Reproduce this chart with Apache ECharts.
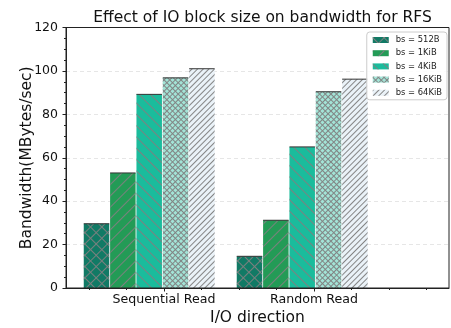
<!DOCTYPE html>
<html>
<head>
<meta charset="utf-8">
<script src="https://cdn.jsdelivr.net/npm/echarts@6/dist/echarts.min.js"></script>
<style>html,body{margin:0;padding:0;background:#fff}#c{width:451px;height:328px}</style>
</head>
<body>
<div id="c"></div>
<script>
// ---- data ----
const categories = ['Sequential Read', 'Random Read'];
const seriesNames = ['bs = 512B', 'bs = 1KiB', 'bs = 4KiB', 'bs = 16KiB', 'bs = 64KiB'];
const bs512B = [29.6, 14.6];
const bs1KiB = [53.0, 31.2];
const bs4KiB = [89.2, 65.0];
const bs16KiB = [96.8, 90.4];
const bs64KiB = [101.0, 96.2];
const yMin = 0, yMax = 120, yStep = 20;
const xTickValues = [-0.5, -0.25, 0, 0.25, 0.5, 0.75, 1, 1.25, 1.5, 1.75];
const xLabelValues = [0, 1];

const values = [bs512B, bs1KiB, bs4KiB, bs16KiB, bs64KiB];
const colors = ['#117a65', '#239b56', '#1abc9c', '#a3e4d7', '#eaf2f8'];
const HATCH = 'rgba(128,128,128,0.95)';
const FONT = 'DejaVu Sans';
const BAR_W = 25.5, GAP = 0.85;

function lines(spacing, rot) {
  return { symbol: 'rect', dashArrayX: [1, 0], dashArrayY: [1, spacing - 1], rotation: rot, color: HATCH };
}
function cross(cell) {
  return { symbol: 'path://M0,0H' + cell + 'V1H1V' + cell + 'H0Z', symbolSize: 1, symbolKeepAspect: false,
    dashArrayX: [cell, 0], dashArrayY: [cell, 0], rotation: Math.PI / 4, color: HATCH };
}
const decals = [cross(8), lines(8, -Math.PI / 4), lines(8, Math.PI / 4), cross(4), lines(4, -Math.PI / 4)];

const barSeries = values.map((arr, i) => ({
  name: seriesNames[i], type: 'bar', xAxisIndex: 1, yAxisIndex: 1,
  data: arr, barWidth: BAR_W, barGap: (GAP / BAR_W * 100) + '%',
  itemStyle: { color: colors[i], decal: decals[i] }, z: 2
}));

const capData = [];
values.forEach((arr, s) => arr.forEach((v, c) => capData.push([c, v, s])));

const chart = echarts.init(document.getElementById('c'), null, { renderer: 'canvas' });
const gridBase = { top: 27.5, height: 260.5, outerBoundsMode: 'none', containLabel: false };
chart.setOption({
  animation: false,
  backgroundColor: '#fff',
  textStyle: { fontFamily: FONT },
  title: {
    text: 'Effect of IO block size on bandwidth for RFS',
    left: 257.5, textAlign: 'center', top: 5,
    textStyle: { fontFamily: FONT, fontSize: 15.5, fontWeight: 'normal', color: '#111' }
  },
  legend: {
    data: seriesNames, orient: 'vertical', right: 4, top: 32, icon: 'rect',
    itemWidth: 16, itemHeight: 6, itemGap: 5.2, padding: [4, 5, 3, 6],
    backgroundColor: 'rgba(255,255,255,0.85)', borderColor: '#cccccc', borderWidth: 1, borderRadius: 3,
    textStyle: { fontFamily: FONT, fontSize: 8.4, color: '#222', padding: [0, 0, 0, 2] }
  },
  grid: [
    Object.assign({ left: 66, width: 383, show: true, z: 5, borderColor: '#222', borderWidth: 1, backgroundColor: 'transparent' }, gridBase),
    Object.assign({ left: 72.7, width: 306 }, gridBase),
    Object.assign({ left: 66, width: 383 }, gridBase)
  ],
  xAxis: [
    { gridIndex: 0, type: 'value', position: 'bottom', min: -0.6533, max: 1.9, z: 5,
      name: 'I/O direction', nameLocation: 'middle', nameGap: 22, nameMoveOverlap: false,
      nameTextStyle: { fontFamily: FONT, fontSize: 15.5, color: '#111' },
      axisLine: { show: true, onZero: false, lineStyle: { color: '#222', width: 1 } },
      axisTick: { show: true, length: 2, customValues: xTickValues, lineStyle: { color: '#222' } },
      axisLabel: { show: true, customValues: xLabelValues, margin: 5, fontFamily: FONT, fontSize: 12.6, color: '#111',
        formatter: v => categories[Math.round(v)] },
      splitLine: { show: false } },
    { gridIndex: 1, type: 'category', data: categories, show: false },
    { gridIndex: 2, type: 'value', position: 'bottom', min: -0.6533, max: 1.9, z: 5,
      axisLine: { show: false, onZero: false },
      axisTick: { show: true, length: 3.5, customValues: xLabelValues, lineStyle: { color: '#222' } },
      axisLabel: { show: false }, splitLine: { show: false } }
  ],
  yAxis: [
    { gridIndex: 0, type: 'value', min: yMin, max: yMax, interval: yStep, z: 0,
      name: 'Bandwidth(MBytes/sec)', nameLocation: 'middle', nameGap: 31, nameMoveOverlap: false,
      nameTextStyle: { fontFamily: FONT, fontSize: 15.5, color: '#111' },
      axisLine: { show: true, onZero: false, lineStyle: { color: '#222', width: 1 } },
      axisTick: { show: true, length: 3.5, lineStyle: { color: '#222' } },
      minorTick: { show: true, splitNumber: 4, length: 2, lineStyle: { color: '#222' } },
      axisLabel: { margin: 8, fontFamily: FONT, fontSize: 12.5, color: '#111' },
      splitLine: { show: true, lineStyle: { color: '#e6e6e6', type: [4, 3], width: 1 } } },
    { gridIndex: 1, type: 'value', min: yMin, max: yMax, interval: yStep, show: false, splitLine: { show: false } },
    { gridIndex: 2, type: 'value', min: yMin, max: yMax, interval: yStep, show: false, splitLine: { show: false } }
  ],
  series: barSeries.concat([{
    type: 'custom', xAxisIndex: 1, yAxisIndex: 1, data: capData, z: 3, silent: true,
    renderItem: function (params, api) {
      const p = api.coord([api.value(0), api.value(1)]);
      const s = api.value(2);
      const cx = p[0] + (s - (values.length - 1) / 2) * (BAR_W + GAP);
      return { type: 'line', shape: { x1: cx - BAR_W / 2, y1: p[1], x2: cx + BAR_W / 2, y2: p[1] },
        style: { stroke: '#333', lineWidth: 1 } };
    }
  }])
});
</script>
</body>
</html>
